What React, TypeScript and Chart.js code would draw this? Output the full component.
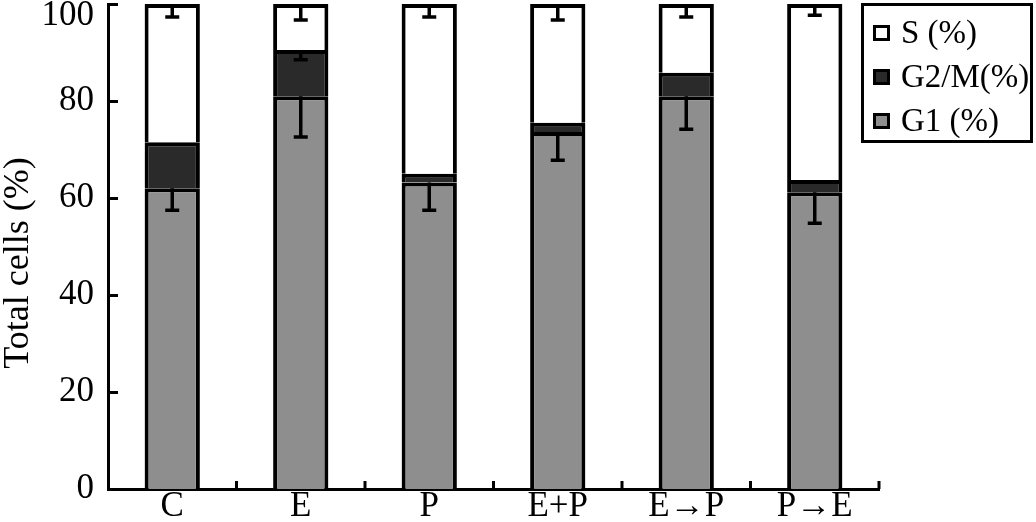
import React, { useEffect, useRef } from 'react';
import { Chart, registerables } from 'chart.js';

Chart.register(...registerables);

const categories = ['C', 'E', 'P', 'E+P', 'E→P', 'P→E'];
const g1Values = [62, 81, 63.2, 73.6, 81, 61.2];
const g2mValues = [9.5, 9.5, 1.8, 1.9, 4.8, 2.5];
const sValues = [28.5, 9.5, 35, 24.5, 14.2, 36.3];
const g1Errors = [4.5, 8.4, 5.7, 5.8, 6.8, 6.4];
const g2mErrors = [0, 2, 0, 0, 0, 0];
const sErrors = [2.7, 3.3, 2.7, 3.3, 2.7, 2.3];
const yTicks = [0, 20, 40, 60, 80, 100];
const seriesLabels = ['G1 (%)', 'G2/M(%)', 'S (%)'];
const yTitle = 'Total cells (%)';

const FONT = "'Liberation Serif', 'Times New Roman', serif";
const colG1 = '#8e8e8e';
const colG2M = '#2a2a2a';
const colS = '#ffffff';

const customPlugin = {
  id: 'custom',
  afterDatasetsDraw(chart: any) {
    const ctx = chart.ctx;
    const y = chart.scales.y;
    ctx.save();
    ctx.strokeStyle = '#000';
    ctx.lineWidth = 3.5;
    chart.data.datasets.forEach((ds: any, di: number) => {
      const meta = chart.getDatasetMeta(di);
      meta.data.forEach((bar: any, i: number) => {
        const e = ds.errors[i];
        if (!e) return;
        let cum = 0;
        for (let k = 0; k <= di; k++) cum += chart.data.datasets[k].data[i];
        const top = y.getPixelForValue(cum);
        const bottom = y.getPixelForValue(cum - e);
        ctx.beginPath();
        ctx.moveTo(bar.x, top);
        ctx.lineTo(bar.x, bottom);
        ctx.moveTo(bar.x - 7, bottom);
        ctx.lineTo(bar.x + 7, bottom);
        ctx.stroke();
      });
    });
    ctx.restore();
  },
  afterDraw(chart: any) {
    const ctx = chart.ctx;
    const y = chart.scales.y;
    const x = chart.scales.x;
    const area = chart.chartArea;
    ctx.save();
    ctx.strokeStyle = '#000';
    ctx.lineWidth = 3;
    yTicks.forEach((v) => {
      const py = Math.round(y.getPixelForValue(v)) + 0.5;
      ctx.beginPath();
      ctx.moveTo(area.left, py);
      ctx.lineTo(area.left + 10, py);
      ctx.stroke();
    });
    const n = categories.length;
    for (let i = 1; i <= n; i++) {
      const px = i < n ? (x.getPixelForValue(i - 1) + x.getPixelForValue(i)) / 2 : area.right;
      ctx.beginPath();
      ctx.moveTo(px, area.bottom);
      ctx.lineTo(px, area.bottom - 8);
      ctx.stroke();
    }
    ctx.fillStyle = '#000';
    ctx.font = `35px ${FONT}`;
    ctx.textAlign = 'right';
    ctx.textBaseline = 'middle';
    yTicks.forEach((v) => {
      const py = Math.max(y.getPixelForValue(v), 16);
      ctx.fillText(String(v), area.left - 14, py);
    });
    ctx.save();
    ctx.translate(19, 263);
    ctx.rotate(-Math.PI / 2);
    ctx.font = `36px ${FONT}`;
    ctx.textAlign = 'center';
    ctx.textBaseline = 'middle';
    ctx.fillText(yTitle, 0, 0);
    ctx.restore();
    const lx = 861, ly = 3, lw = 172, lh = 140;
    ctx.lineWidth = 3;
    ctx.strokeRect(lx + 1.5, ly + 1.5, lw - 3, lh - 3);
    const order = [2, 1, 0];
    const rows = [33, 77, 121];
    ctx.font = `33px ${FONT}`;
    ctx.textAlign = 'left';
    ctx.textBaseline = 'middle';
    order.forEach((di, r) => {
      const ds = chart.data.datasets[di];
      const cy = rows[r];
      ctx.fillStyle = '#000';
      ctx.fillRect(873, cy - 8, 17, 16);
      ctx.fillStyle = ds.backgroundColor;
      ctx.fillRect(876, cy - 5, 11, 10);
      ctx.fillStyle = '#000';
      ctx.fillText(ds.label, 901, cy + 1);
    });
    ctx.restore();
  },
};

export default function App() {
  const ref = useRef<HTMLCanvasElement>(null);
  useEffect(() => {
    const canvas = ref.current!;
    const common = {
      borderColor: '#000',
      borderWidth: 4,
      barPercentage: 0.43,
      categoryPercentage: 1,
    };
    const chart = new Chart(canvas, {
      type: 'bar',
      data: {
        labels: categories,
        datasets: [
          { ...common, label: seriesLabels[0], data: g1Values, backgroundColor: colG1, errors: g1Errors } as any,
          { ...common, label: seriesLabels[1], data: g2mValues, backgroundColor: colG2M, errors: g2mErrors } as any,
          { ...common, label: seriesLabels[2], data: sValues, backgroundColor: colS, errors: sErrors } as any,
        ],
      },
      options: {
        responsive: false,
        animation: false,
        devicePixelRatio: 1,
        layout: { padding: { left: 0, top: 4, right: 157, bottom: 0 } },
        plugins: { legend: { display: false }, tooltip: { enabled: false } },
        scales: {
          x: {
            stacked: true,
            grid: { display: false, drawTicks: false },
            border: { display: true, width: 3, color: '#000' },
            ticks: { color: '#000', padding: 0, font: { family: FONT, size: 35, lineHeight: 1 } },
            afterFit: (s: any) => {
              s.height = 33;
              s.paddingLeft = 0;
              s.paddingRight = 0;
            },
          },
          y: {
            stacked: true,
            min: 0,
            max: 100,
            grid: { display: false, drawTicks: false },
            border: { display: true, width: 3, color: '#000' },
            ticks: { display: false, stepSize: 20 },
            afterFit: (s: any) => {
              s.width = 108;
              s.paddingTop = 0;
              s.paddingBottom = 0;
            },
          },
        },
      },
      plugins: [customPlugin],
    } as any);
    return () => chart.destroy();
  }, []);
  return (
    <div style={{ position: 'absolute', left: 0, top: 0, width: 1036, height: 522 }}>
      <canvas ref={ref} width={1036} height={522} style={{ display: 'block' }} />
    </div>
  );
}
